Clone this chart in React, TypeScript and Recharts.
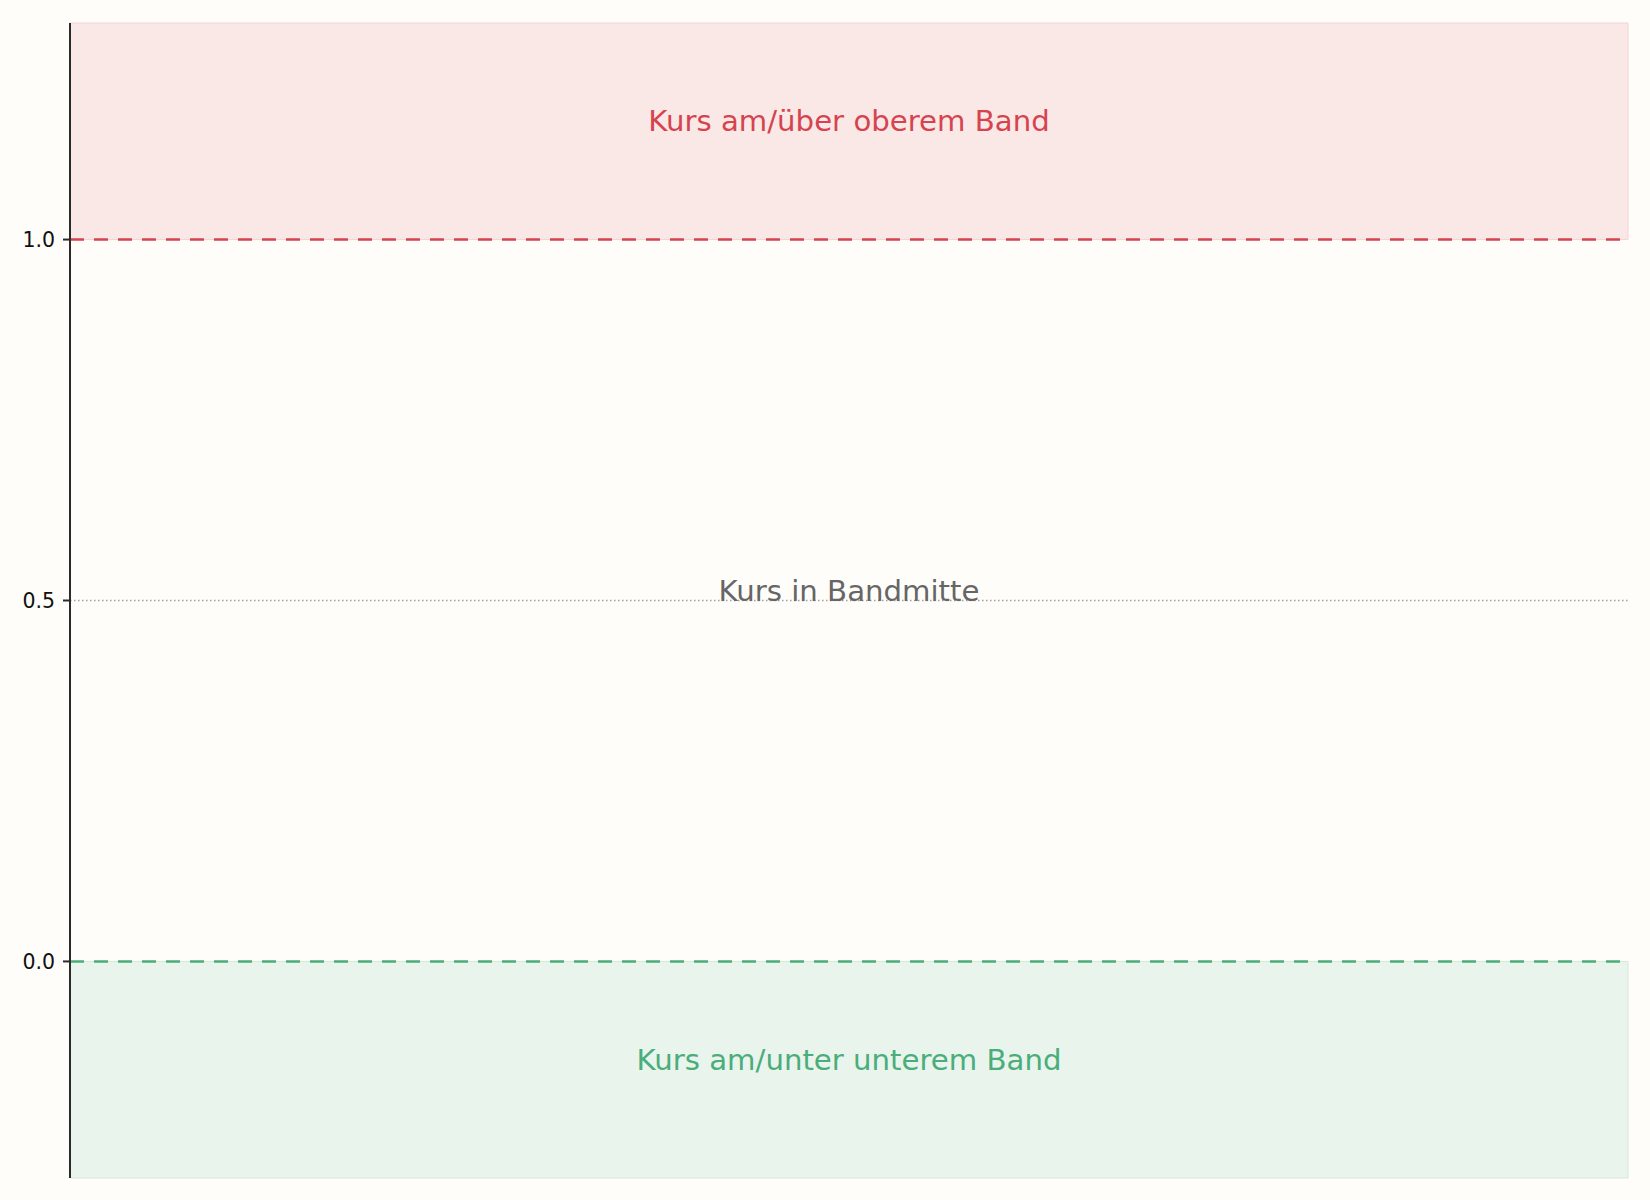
import {
  ComposedChart,
  XAxis,
  YAxis,
  ReferenceArea,
  ReferenceLine,
  Scatter
} from "recharts"

// %B-style position of price within the band
const yDomain = [-0.3, 1.3]
const yTicks = [0, 0.5, 1.0]
const upperBand = 1.0
const middleBand = 0.5
const lowerBand = 0.0

const zoneLabels = ["Kurs am/über oberem Band", "Kurs in Bandmitte", "Kurs am/unter unterem Band"]
const zoneLabelY = [1.15, 0.5, -0.15]
const zoneLabelColors = ["#d6434f", "#666666", "#4aad7a"]

const annotations = zoneLabels.map((text, i) => ({
  x: 0.5,
  y: zoneLabelY[i],
  text,
  color: zoneLabelColors[i]
}))

const FONT = "'DejaVu Sans', Verdana, sans-serif"

const ZoneText = (props: any) => {
  const { cx, cy, payload } = props
  return (
    <text x={cx} y={cy} textAnchor="middle" fontSize={29.2} fontFamily={FONT} fill={payload.color}>
      {payload.text}
    </text>
  )
}

export default function App() {
  return (
    <div
      style={{
        position: "absolute",
        left: 0,
        top: 0,
        width: 1650,
        height: 1200,
        background: "#fefdf9"
      }}
    >
      <ComposedChart
        width={1650}
        height={1200}
        data={annotations}
        margin={{ top: 23, right: 22, left: 8, bottom: 22 }}
      >
        <XAxis type="number" dataKey="x" domain={[0, 1]} hide />
        <YAxis
          type="number"
          width={62}
          domain={yDomain}
          ticks={yTicks}
          allowDataOverflow
          tickFormatter={(v: number) => v.toFixed(1)}
          tick={{ fill: "#111", fontSize: 20.5, fontFamily: FONT }}
          tickSize={7}
          tickMargin={8}
          axisLine={{ stroke: "#2a2a2a", strokeWidth: 2 }}
          tickLine={{ stroke: "#2a2a2a", strokeWidth: 2 }}
        />

        <ReferenceArea y1={upperBand} y2={yDomain[1]} fill="#f9e8e6" fillOpacity={1} stroke="#f4d3d3" strokeWidth={1} />
        <ReferenceArea y1={yDomain[0]} y2={lowerBand} fill="#e9f4ed" fillOpacity={1} stroke="#d3e9dc" strokeWidth={1} />

        <ReferenceLine y={upperBand} stroke="#d6434f" strokeWidth={2.6} strokeDasharray="14 10" />
        <ReferenceLine y={middleBand} stroke="#a0a0a0" strokeWidth={1.3} strokeDasharray="1.5 2.5" />
        <ReferenceLine y={lowerBand} stroke="#4aad7a" strokeWidth={2.6} strokeDasharray="14 10" />

        <Scatter dataKey="y" shape={ZoneText} isAnimationActive={false} />
      </ComposedChart>
    </div>
  )
}
